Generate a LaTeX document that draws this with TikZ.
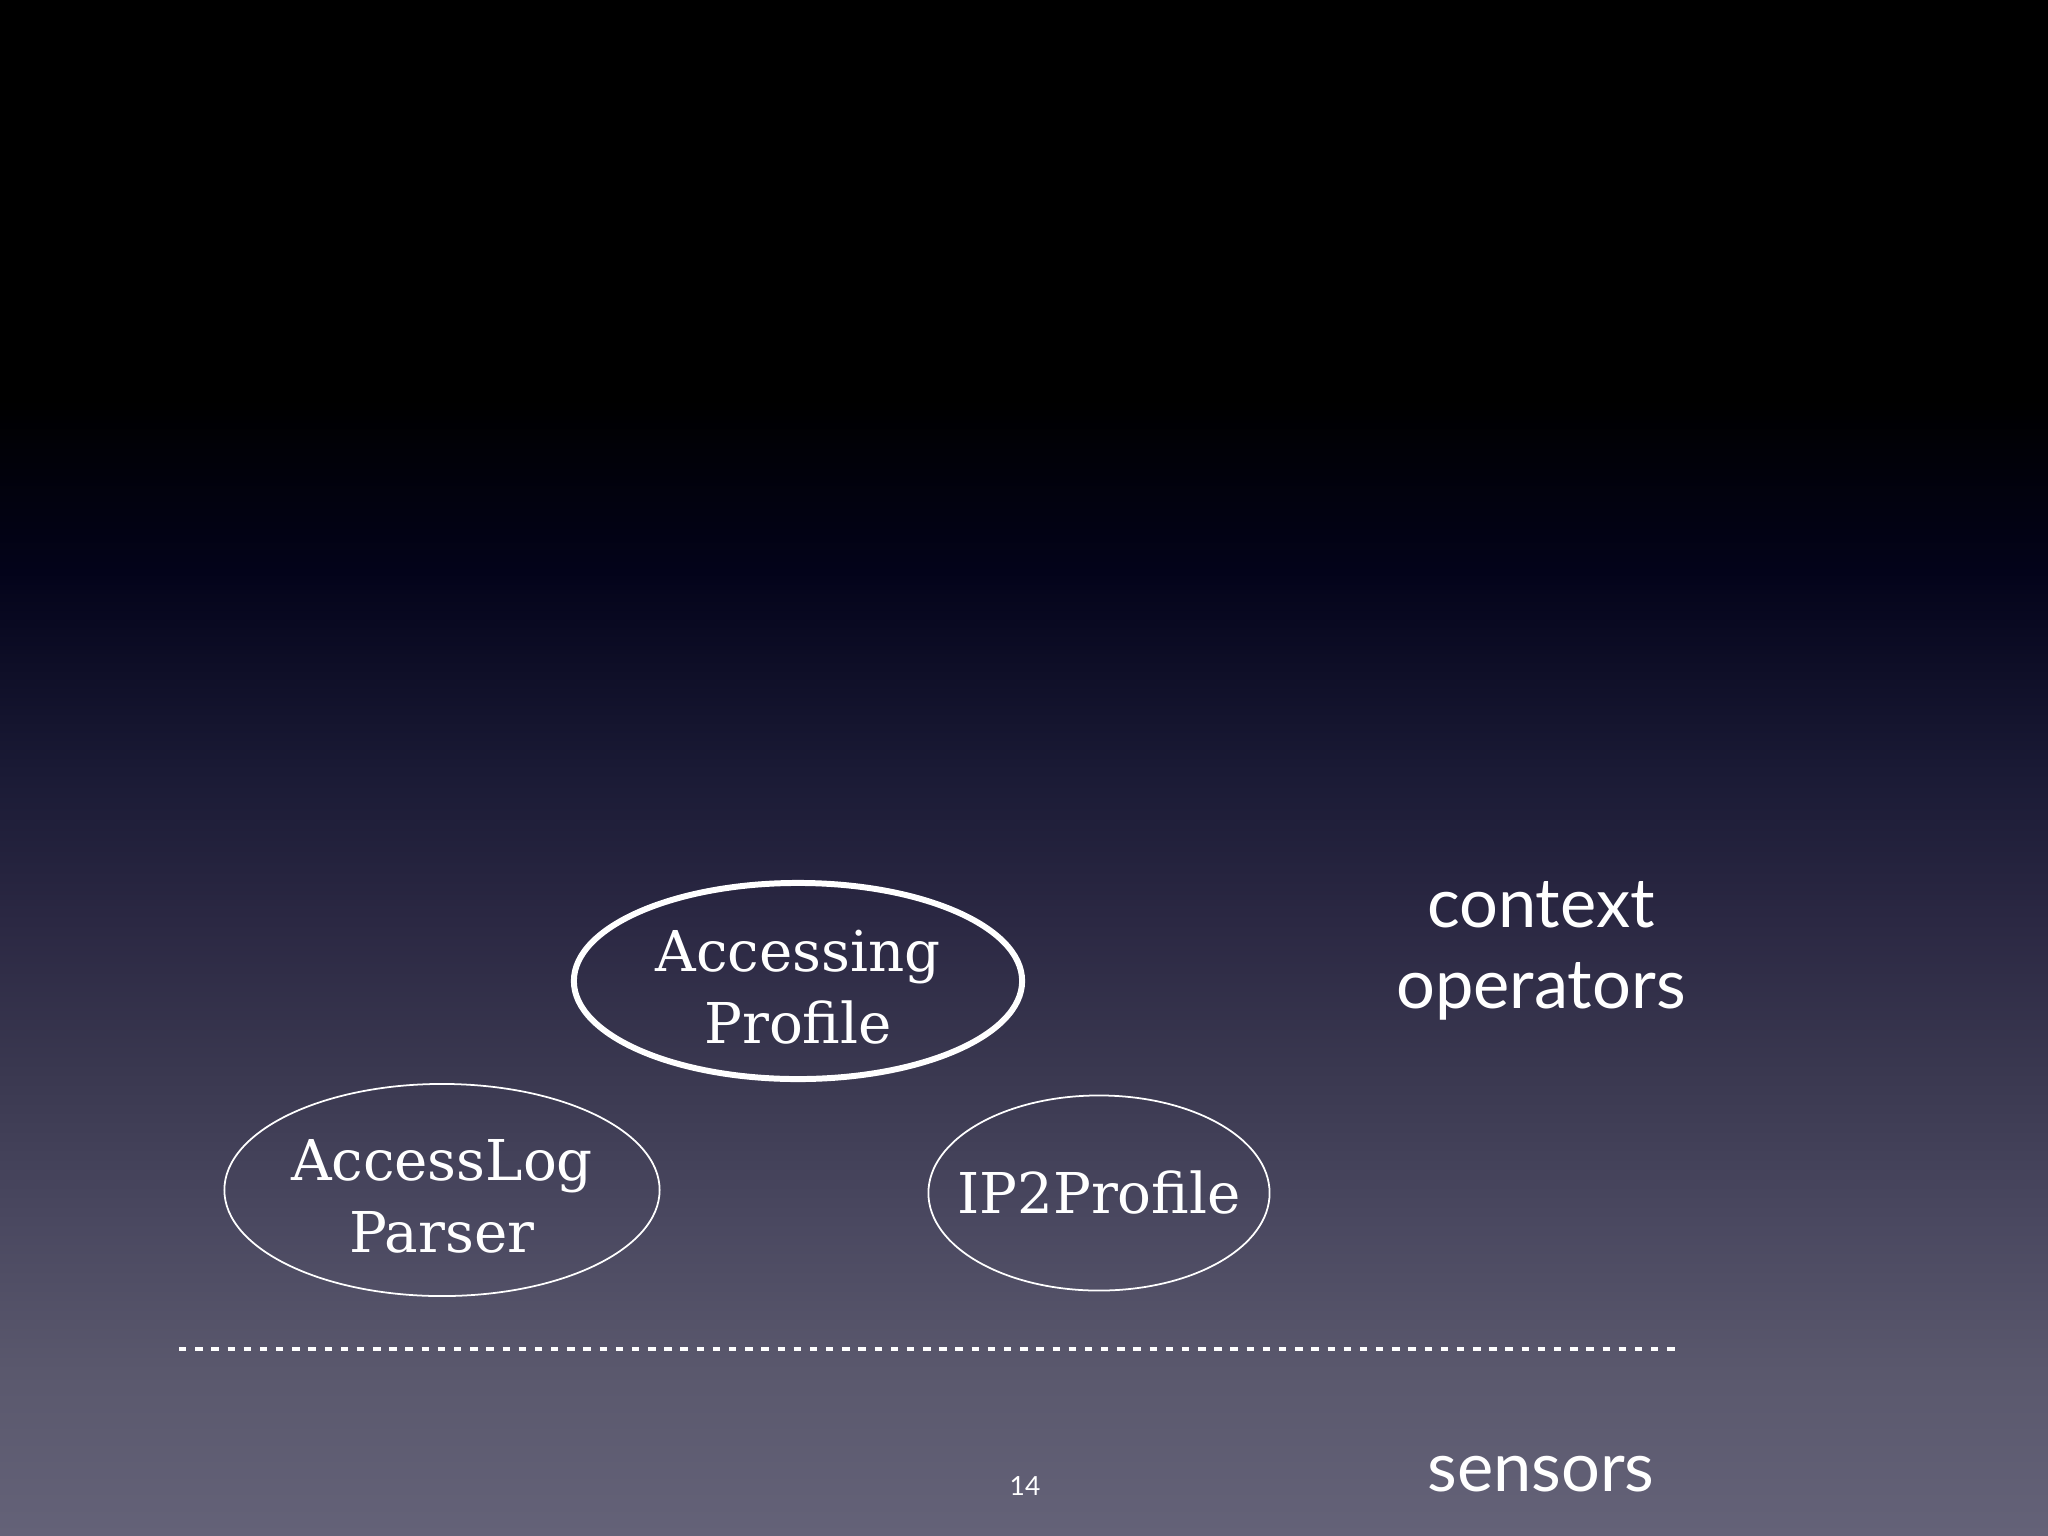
\documentclass[tikz,border=0pt]{standalone}
\usepackage{fontspec}
\setmainfont{DejaVu Serif}
\newfontfamily\labelfont{Lato}
\usetikzlibrary{shapes.geometric}
\definecolor{bgA}{HTML}{000000}
\definecolor{bgB}{HTML}{03031A}
\definecolor{bgC}{HTML}{1A1A35}
\definecolor{bgD}{HTML}{2B2843}
\definecolor{bgE}{HTML}{3A3850}
\definecolor{bgF}{HTML}{4A4860}
\definecolor{bgG}{HTML}{5A586D}
\definecolor{bgH}{HTML}{646278}
% path bounding box maps to 25bp..75bp of the declared shading
\pgfdeclareverticalshading{slidebg}{100bp}{%
  color(0bp)=(bgH); color(25bp)=(bgH); color(30.37bp)=(bgG);
  color(35.25bp)=(bgF); color(40.13bp)=(bgE); color(45bp)=(bgD);
  color(49.9bp)=(bgC); color(56.4bp)=(bgB); color(62bp)=(bgA);
  color(75bp)=(bgA); color(100bp)=(bgA)}
\tikzset{
  opring/.style={ellipse, draw=white, inner sep=0pt},
  thickop/.style={opring, line width=1.7pt},
  thinop/.style={opring, line width=0.5pt},
  optext/.style={text=white, align=center, inner sep=0pt,
    font=\fontsize{16}{20.5}\selectfont},
  sidelabel/.style={text=white, align=center, font=\labelfont\fontsize{19.5}{23}\selectfont},
  divider/.style={white, line width=1.1pt, dash pattern=on 2.1pt off 2.5pt},
}
\begin{document}
\begin{tikzpicture}[x=0.01cm,y=-0.01cm]
\useasboundingbox (0,0) rectangle (2048,1536);
\fill[shading=slidebg] (0,0) rectangle (2048,1536);
\node[thickop, minimum width=4.48cm, minimum height=1.96cm] (ap) at (798,981) {};
\node[optext] (apt) at (798,987) {Accessing\\Profile};
\node[thinop, minimum width=4.35cm, minimum height=2.12cm] (alp) at (442,1190) {};
\node[optext] (alpt) at (442,1196) {AccessLog\\Parser};
\node[thinop, minimum width=3.41cm, minimum height=1.95cm] (ip) at (1099,1193) {};
\node[optext] (ipt) at (1099,1193) {IP2Profile};
\node[sidelabel] (ctx) at (1541,951) {context\\operators};
\node[sidelabel] (sens) at (1541,1474) {sensors};
\node[text=white, font=\labelfont\fontsize{7.5}{9}\selectfont] (pg) at (1025,1486) {14};
\coordinate (dl) at (179,1349);
\coordinate (dr) at (1676,1349);
\draw[divider] (dl) -- (dr);
\end{tikzpicture}
\end{document}
